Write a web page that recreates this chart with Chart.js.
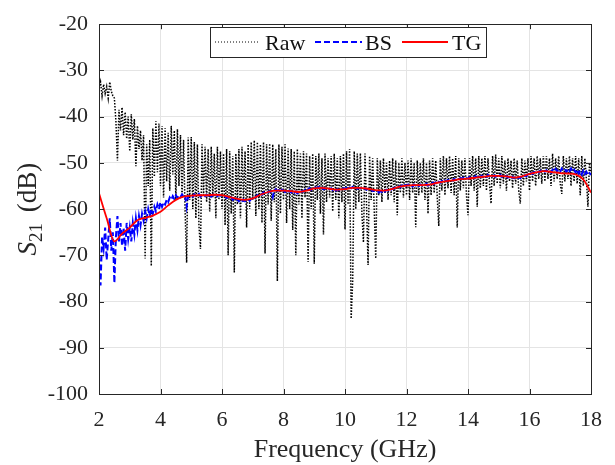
<!DOCTYPE html>
<html><head><meta charset="utf-8">
<script src="https://cdn.jsdelivr.net/npm/chart.js@4.4.1/dist/chart.umd.min.js"></script>
<style>html,body{margin:0;padding:0;background:#fff;}canvas{display:block;}</style>
</head><body>
<canvas id="c" width="615" height="465"></canvas>
<script>
// Sampling grid of the measured traces (GHz)
const sampleStartGHz = 2;
const sampleStepGHz = 0.05;
// TG smooth curve knot spacing (GHz)
const tgStartGHz = 2;
const tgStepGHz = 0.25;

const xTickValues = [2, 4, 6, 8, 10, 12, 14, 16, 18];
const yTickValues = [-100, -90, -80, -70, -60, -50, -40, -30, -20];
const seriesNames = ['Raw', 'BS', 'TG'];

// Raw measured S21 (dB), 2.00 .. 18.00 GHz
const rawDb = [
-34.0,-32.5,-35.5,-33.0,-35.0,-33.5,-36.0,-32.5,-34.5,-35.5,
-36.0,-41.0,-49.5,-38.5,-43.0,-38.0,-44.0,-39.0,-44.8,-40.0,
-47.5,-39.5,-45.0,-40.5,-50.7,-42.0,-47.0,-43.0,-49.5,-44.0,
-70.7,-46.0,-55.0,-45.0,-72.3,-42.5,-53.0,-41.0,-52.0,-41.5,
-55.0,-42.0,-57.5,-42.5,-54.0,-43.5,-56.0,-42.0,-52.5,-43.0,
-58.0,-42.7,-55.0,-44.0,-57.5,-45.0,-60.5,-71.6,-44.5,-58.0,
-44.4,-60.0,-45.5,-62.0,-46.0,-63.5,-68.6,-46.0,-57.0,-46.5,
-58.5,-47.0,-60.5,-46.5,-57.5,-48.0,-62.0,-46.5,-58.0,-47.5,
-60.0,-48.0,-63.5,-47.0,-70.0,-47.5,-61.0,-48.5,-73.7,-48.0,
-59.0,-47.0,-62.0,-46.5,-58.5,-47.5,-64.0,-46.0,-60.0,-45.5,
-58.0,-45.1,-61.5,-45.5,-60.0,-46.0,-63.0,-45.5,-69.6,-46.0,
-59.0,-45.8,-62.5,-46.0,-58.5,-47.0,-75.6,-46.0,-61.0,-46.5,
-58.0,-46.0,-63.0,-46.9,-60.0,-47.0,-64.5,-47.5,-70.0,-47.0,
-59.0,-48.0,-62.0,-47.5,-57.5,-48.0,-71.4,-48.5,-60.0,-48.0,
-71.8,-48.5,-58.0,-48.0,-61.0,-49.0,-65.5,-48.0,-58.5,-49.0,
-57.5,-48.5,-60.5,-48.0,-58.0,-49.0,-62.0,-48.5,-58.5,-48.0,
-64.4,-47.5,-59.0,-47.0,-83.7,-75.6,-47.5,-60.0,-48.0,-58.5,
-47.9,-61.0,-67.2,-48.0,-59.0,-72.1,-48.5,-58.0,-49.0,-60.0,
-70.7,-49.0,-57.0,-49.5,-58.5,-49.0,-56.5,-50.0,-58.0,-49.5,
-57.0,-49.0,-58.5,-49.5,-61.3,-50.0,-56.5,-49.0,-57.5,-50.0,
-57.0,-49.5,-58.0,-49.0,-56.5,-50.0,-63.9,-49.5,-57.0,-50.0,
-56.5,-49.0,-58.0,-50.0,-61.0,-49.5,-57.0,-49.0,-56.5,-49.5,
-57.5,-63.7,-49.0,-56.0,-48.5,-57.0,-49.0,-55.5,-48.5,-56.5,
-49.0,-57.0,-48.5,-64.0,-49.0,-56.0,-49.5,-55.5,-49.0,-57.0,
-61.3,-49.0,-55.0,-48.5,-56.0,-49.0,-59.5,-48.5,-55.5,-49.0,
-55.0,-48.5,-56.0,-49.0,-54.5,-58.8,-48.5,-55.0,-48.2,-54.5,
-49.0,-55.5,-48.5,-54.5,-49.5,-56.0,-49.0,-54.0,-49.5,-55.5,
-49.0,-54.5,-49.5,-56.0,-58.8,-49.0,-55.0,-49.5,-54.0,-49.0,
-56.0,-48.5,-54.0,-49.0,-55.0,-48.5,-53.5,-49.0,-54.5,-48.5,
-54.0,-48.5,-53.5,-49.0,-55.0,-48.0,-54.0,-49.0,-53.5,-48.5,
-54.5,-56.7,-48.5,-54.0,-49.0,-53.5,-48.5,-55.0,-49.0,-54.0,
-48.5,-54.5,-49.0,-57.0,-48.5,-55.0,-49.0,-53.5,-59.5,-50.0,
-52.0
];

// BS processed S21 (dB), 2.00 .. 18.00 GHz
const bsDb = [
-70.0,-76.5,-66.0,-68.5,-64.0,-71.0,-66.5,-62.0,-69.0,-65.0,
-76.0,-66.0,-61.5,-67.0,-63.0,-68.0,-64.0,-69.0,-63.0,-66.5,
-64.0,-67.0,-63.0,-65.5,-62.0,-64.5,-61.5,-63.5,-61.0,-62.5,
-60.5,-62.0,-60.0,-61.5,-60.0,-61.0,-59.5,-60.5,-59.0,-60.0,
-58.5,-59.5,-58.5,-59.0,-58.0,-58.5,-57.5,-58.0,-57.2,-57.8,
-57.0,-57.6,-57.0,-57.4,-56.8,-57.3,-57.0,-59.5,-57.2,-56.9,
-57.0,-57.3,-56.8,-57.2,-57.0,-56.7,-57.3,-57.0,-56.8,-57.2,
-56.9,-57.1,-56.8,-57.3,-56.9,-57.0,-56.7,-57.2,-56.9,-57.1,
-57.0,-57.3,-57.2,-57.6,-57.4,-57.8,-57.5,-58.0,-57.7,-58.2,
-57.8,-58.3,-58.0,-58.4,-57.9,-58.3,-58.1,-57.9,-58.2,-57.8,
-57.6,-57.9,-57.3,-57.0,-57.2,-56.7,-56.9,-56.4,-56.6,-56.2,
-56.4,-56.1,-56.3,-57.4,-56.0,-55.7,-56.1,-55.9,-56.2,-55.8,
-56.0,-56.3,-55.9,-56.2,-56.0,-56.4,-56.1,-56.5,-56.2,-56.6,
-56.3,-56.5,-56.1,-56.2,-55.8,-56.0,-55.7,-55.5,-55.8,-55.4,
-55.6,-55.3,-55.5,-55.2,-55.6,-55.4,-55.7,-55.5,-55.8,-55.6,
-55.7,-55.5,-55.9,-55.6,-56.0,-55.7,-55.9,-55.6,-55.8,-55.5,
-55.7,-55.4,-55.6,-55.3,-55.5,-55.2,-55.5,-55.3,-55.6,-55.4,
-55.5,-55.3,-55.7,-55.5,-55.8,-55.6,-56.0,-55.8,-56.1,-55.9,
-56.2,-56.0,-56.4,-56.1,-56.3,-55.9,-56.2,-55.8,-56.0,-55.7,
-55.8,-55.5,-55.6,-55.2,-55.4,-55.1,-55.3,-54.9,-55.2,-54.8,
-55.0,-54.7,-55.0,-54.8,-55.1,-54.7,-54.9,-54.6,-55.0,-54.7,
-54.9,-54.6,-54.8,-54.5,-54.9,-54.6,-54.7,-54.3,-54.6,-54.2,
-54.4,-54.1,-54.3,-53.9,-54.2,-53.8,-54.0,-53.7,-53.9,-53.6,
-53.8,-53.5,-53.7,-53.4,-53.6,-53.3,-53.5,-53.2,-53.5,-53.3,
-53.4,-53.1,-53.4,-53.0,-53.3,-52.9,-53.2,-52.8,-53.1,-52.8,
-53.0,-52.7,-53.0,-52.6,-52.9,-52.6,-52.9,-52.7,-53.0,-52.6,
-52.9,-52.6,-53.0,-52.7,-53.1,-52.8,-53.2,-52.9,-53.4,-53.0,
-53.3,-53.0,-53.4,-53.1,-53.3,-52.9,-53.1,-52.7,-52.9,-52.5,
-52.6,-52.2,-52.4,-52.0,-52.2,-51.8,-52.1,-51.7,-52.0,-51.6,
-51.9,-51.6,-52.0,-51.7,-52.1,-51.5,-51.9,-51.3,-51.8,-51.4,
-51.9,-51.2,-51.7,-51.4,-52.0,-51.3,-51.8,-51.2,-51.9,-51.5,
-52.1,-51.4,-52.3,-51.6,-52.5,-51.7,-52.4,-51.9,-52.6,-52.2,
-52.6
];

// TG smoothed S21 (dB), knots every 0.25 GHz from 2 to 18 GHz
const tgDb = [
-56.6,-62.0,-67.0,-65.3,-64.0,-62.4,-61.9,-61.4,
-60.6,-59.2,-58.0,-57.3,-57.1,-57.0,-57.0,-56.9,
-57.0,-57.4,-57.8,-58.0,-57.7,-56.9,-56.3,-56.0,
-56.0,-56.1,-56.3,-56.0,-55.5,-55.4,-55.6,-55.8,
-55.7,-55.4,-55.4,-55.6,-55.9,-56.0,-55.7,-55.2,
-54.9,-54.8,-54.8,-54.7,-54.3,-54.0,-53.8,-53.5,
-53.4,-53.2,-53.0,-52.8,-52.8,-52.9,-53.2,-52.9,
-52.4,-52.0,-51.8,-52.0,-52.2,-52.3,-52.5,-53.6,
-56.4
];

const toPoints = (vals, start, step) => vals.map((v, i) => ({ x: +(start + i * step).toFixed(4), y: v }));

const FONT = "'Liberation Serif', 'Times New Roman', serif";
const AX = '#262626';

const decorPlugin = {
  id: 'decor',
  afterDraw(chart) {
    const ctx = chart.ctx;
    const a = chart.chartArea;
    const xs = chart.scales.x, ys = chart.scales.y;
    ctx.save();
    ctx.strokeStyle = AX;
    ctx.lineWidth = 1;
    ctx.strokeRect(Math.round(a.left) + 0.5, Math.round(a.top) + 0.5, Math.round(a.right - a.left), Math.round(a.bottom - a.top));
    const tl = 5;
    ctx.beginPath();
    xTickValues.forEach(v => {
      const px = Math.round(xs.getPixelForValue(v)) + 0.5;
      ctx.moveTo(px, a.bottom); ctx.lineTo(px, a.bottom - tl);
      ctx.moveTo(px, a.top); ctx.lineTo(px, a.top + tl);
    });
    yTickValues.forEach(v => {
      const py = Math.round(ys.getPixelForValue(v)) + 0.5;
      ctx.moveTo(a.left, py); ctx.lineTo(a.left + tl, py);
      ctx.moveTo(a.right, py); ctx.lineTo(a.right - tl, py);
    });
    ctx.stroke();

    // legend
    const lx = 210, ly = 27, lw = 276, lh = 30;
    ctx.fillStyle = '#fff';
    ctx.fillRect(lx, ly, lw, lh);
    ctx.strokeStyle = '#262626';
    ctx.strokeRect(lx + 0.5, ly + 0.5, lw, lh);
    const midY = ly + 15;
    const ds = chart.data.datasets;
    const entries = [
      { name: seriesNames[0], ds: ds.find(d => d.label === seriesNames[0]), x0: 215, x1: 258, tx: 265 },
      { name: seriesNames[1], ds: ds.find(d => d.label === seriesNames[1]), x0: 315, x1: 362, tx: 365 },
      { name: seriesNames[2], ds: ds.find(d => d.label === seriesNames[2]), x0: 402, x1: 448, tx: 452 }
    ];
    entries.forEach((e, k) => {
      ctx.beginPath();
      ctx.strokeStyle = e.ds.borderColor;
      ctx.lineWidth = k === 0 ? 1 : e.ds.borderWidth;
      ctx.setLineDash(k === 0 ? [1, 2] : (e.ds.borderDash || []));
      ctx.moveTo(e.x0, midY); ctx.lineTo(e.x1, midY);
      ctx.stroke();
      ctx.setLineDash([]);
      ctx.fillStyle = '#111';
      ctx.font = '22px ' + FONT;
      ctx.textBaseline = 'alphabetic';
      ctx.textAlign = 'left';
      ctx.fillText(e.name, e.tx, midY + 8);
    });

    // x title
    ctx.fillStyle = AX;
    ctx.font = '26px ' + FONT;
    ctx.textAlign = 'center';
    ctx.textBaseline = 'alphabetic';
    ctx.fillText('Frequency (GHz)', (a.left + a.right) / 2, 457);

    // y title: S_21 (dB)
    ctx.save();
    ctx.translate(36, (a.top + a.bottom) / 2);
    ctx.rotate(-Math.PI / 2);
    const fS = 'italic 27px ' + FONT, fSub = '19px ' + FONT, fR = '27px ' + FONT;
    ctx.font = fS; const wS = ctx.measureText('S').width;
    ctx.font = fSub; const wSub = ctx.measureText('21').width;
    ctx.font = fR; const wR = ctx.measureText(' (dB)').width;
    const gap = 4;
    const total = wS + wSub + gap + wR;
    let cx = -total / 2;
    ctx.textAlign = 'left';
    ctx.font = fS; ctx.fillText('S', cx, 0); cx += wS;
    ctx.font = fSub; ctx.fillText('21', cx, 6); cx += wSub + gap;
    ctx.font = fR; ctx.fillText(' (dB)', cx, 0);
    ctx.restore();
    ctx.restore();
  }
};

const bgPlugin = {
  id: 'bg',
  beforeDraw(chart) {
    const ctx = chart.ctx;
    ctx.save(); ctx.fillStyle = '#fff'; ctx.fillRect(0, 0, chart.width, chart.height); ctx.restore();
  }
};

new Chart(document.getElementById('c'), {
  type: 'line',
  data: {
    datasets: [
      { label: seriesNames[2], data: toPoints(tgDb, tgStartGHz, tgStepGHz), borderColor: '#ff0000', borderWidth: 1.8, pointRadius: 0, cubicInterpolationMode: 'monotone', order: 0 },
      { label: seriesNames[1], data: toPoints(bsDb, sampleStartGHz, sampleStepGHz), borderColor: '#0000ff', borderWidth: 2, borderDash: [6, 3], pointRadius: 0, tension: 0, order: 1 },
      { label: seriesNames[0], data: toPoints(rawDb, sampleStartGHz, sampleStepGHz), borderColor: '#000000', borderWidth: 1.5, borderDash: [1.5, 1.5], pointRadius: 0, tension: 0, order: 2 }
    ]
  },
  options: {
    responsive: false,
    animation: false,
    events: [],
    layout: { padding: { top: 14, right: 19, left: 0, bottom: 0 } },
    plugins: { legend: { display: false }, tooltip: { enabled: false } },
    scales: {
      x: {
        type: 'linear', min: 2, max: 18,
        afterBuildTicks(s) { s.ticks = xTickValues.map(v => ({ value: v })); },
        afterFit(s) { s.height = 71; },
        grid: { color: '#e4e4e4', lineWidth: 1, drawTicks: false },
        border: { display: false },
        ticks: { padding: 13, color: AX, font: { family: FONT, size: 22 }, maxRotation: 0 }
      },
      y: {
        type: 'linear', min: -100, max: -20,
        afterBuildTicks(s) { s.ticks = yTickValues.map(v => ({ value: v })); },
        afterFit(s) { s.width = 99; },
        grid: { color: '#e4e4e4', lineWidth: 1, drawTicks: false },
        border: { display: false },
        ticks: { padding: 11, color: AX, font: { family: FONT, size: 22 } }
      }
    }
  },
  plugins: [bgPlugin, decorPlugin]
});
</script>
</body></html>
